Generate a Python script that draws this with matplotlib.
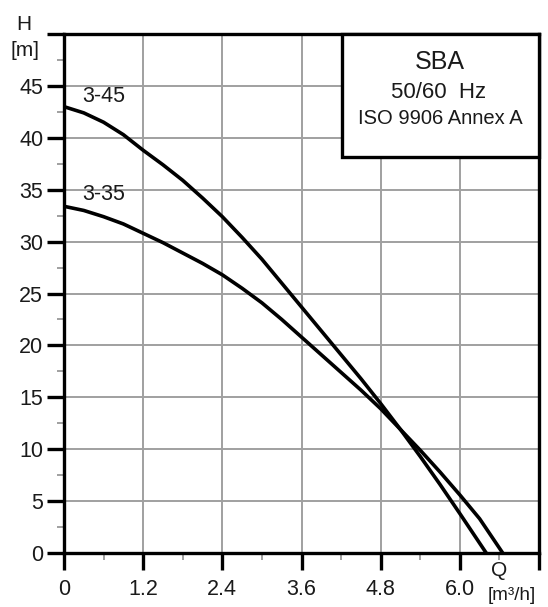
import matplotlib
matplotlib.use("Agg")
import matplotlib.pyplot as plt
from matplotlib.ticker import MultipleLocator, FixedLocator
from matplotlib.patches import Rectangle

plt.rcParams['font.family'] = ['Liberation Sans', 'DejaVu Sans']

# Flow Q [m3/h] and head H [m]
q_345 = [0.0, 0.3, 0.6, 0.9, 1.2, 1.5, 1.8, 2.1, 2.4, 2.7, 3.0, 3.3, 3.6, 3.9, 4.2, 4.5, 4.8, 5.1, 5.4, 5.7, 6.0, 6.2, 6.4]
h_345 = [43.0, 42.4, 41.5, 40.3, 38.8, 37.4, 35.9, 34.2, 32.4, 30.4, 28.3, 26.0, 23.7, 21.4, 19.1, 16.8, 14.4, 11.9, 9.3, 6.6, 3.8, 1.9, 0.0]
q_335 = [0.0, 0.3, 0.6, 0.9, 1.2, 1.5, 1.8, 2.1, 2.4, 2.7, 3.0, 3.3, 3.6, 3.9, 4.2, 4.5, 4.8, 5.1, 5.4, 5.7, 6.0, 6.3, 6.65]
h_335 = [33.4, 33.0, 32.4, 31.7, 30.8, 29.9, 28.9, 27.9, 26.8, 25.5, 24.1, 22.5, 20.8, 19.1, 17.4, 15.7, 13.9, 11.9, 9.9, 7.8, 5.6, 3.3, 0.0]

x_ticks = [0, 1.2, 2.4, 3.6, 4.8, 6.0, 7.2]
x_labels = ['0', '1.2', '2.4', '3.6', '4.8', '6.0', '']
y_ticks = [0, 5, 10, 15, 20, 25, 30, 35, 40, 45, 50]
y_labels = ['0', '5', '10', '15', '20', '25', '30', '35', '40', '45', '']

TXT = '#1a1a1a'

fig = plt.figure(figsize=(5.48, 6.07), dpi=100)
ax = fig.add_axes([64/548, 1-553/607, (539-64)/548, (553-34)/607])
ax.set_xlim(0, 7.2)
ax.set_ylim(0, 50)

ax.xaxis.set_major_locator(FixedLocator(x_ticks))
ax.set_xticklabels(x_labels)
ax.xaxis.set_minor_locator(MultipleLocator(0.6))
ax.yaxis.set_major_locator(FixedLocator(y_ticks))
ax.set_yticklabels(y_labels)
ax.yaxis.set_minor_locator(MultipleLocator(2.5))

ax.grid(True, which='major', color='#a0a0a0', linewidth=1.4, zorder=0)
for s in ax.spines.values():
    s.set_linewidth(2.4)
    s.set_color('black')

ax.tick_params(axis='both', which='major', direction='out', length=12, width=2.4,
               color='black', labelsize=15.5, labelcolor=TXT)
ax.tick_params(axis='x', which='major', pad=7)
ax.tick_params(axis='y', which='major', pad=3)
ax.tick_params(axis='both', which='minor', direction='out', length=5, width=1.3,
               color='#999999')

ax.plot(q_345, h_345, color='black', linewidth=2.6, zorder=3, solid_capstyle='butt',
        solid_joinstyle='round')
ax.plot(q_335, h_335, color='black', linewidth=2.6, zorder=3, solid_capstyle='butt',
        solid_joinstyle='round')

ax.text(0.6, 44.0, '3-45', fontsize=15.5, ha='center', va='center', color=TXT, zorder=4)
ax.text(0.6, 34.5, '3-35', fontsize=15.5, ha='center', va='center', color=TXT, zorder=4)

# Info box
ax.add_patch(Rectangle((4.21, 38.15), 7.2 - 4.21, 50 - 38.15, facecolor='white',
                       edgecolor='black', linewidth=2.4, zorder=5, clip_on=False))
ax.text(5.7, 47.3, 'SBA', fontsize=18, ha='center', va='center', color=TXT, zorder=6)
ax.text(5.68, 44.4, '50/60  Hz', fontsize=16, ha='center', va='center', color=TXT, zorder=6)
ax.text(5.7, 41.9, 'ISO 9906 Annex A', fontsize=14.5, ha='center', va='center', color=TXT, zorder=6)

fig.text(24/548, 1-24/607, 'H', fontsize=15, ha='center', va='center', color=TXT)
fig.text(25/548, 1-50/607, '[m]', fontsize=15, ha='center', va='center', color=TXT)
fig.text(499/548, 1-570/607, 'Q', fontsize=15, ha='center', va='center', color=TXT)
fig.text(512/548, 1-595/607, '[m³/h]', fontsize=13.5, ha='center', va='center', color=TXT)

fig.savefig('out.png', dpi=100)
